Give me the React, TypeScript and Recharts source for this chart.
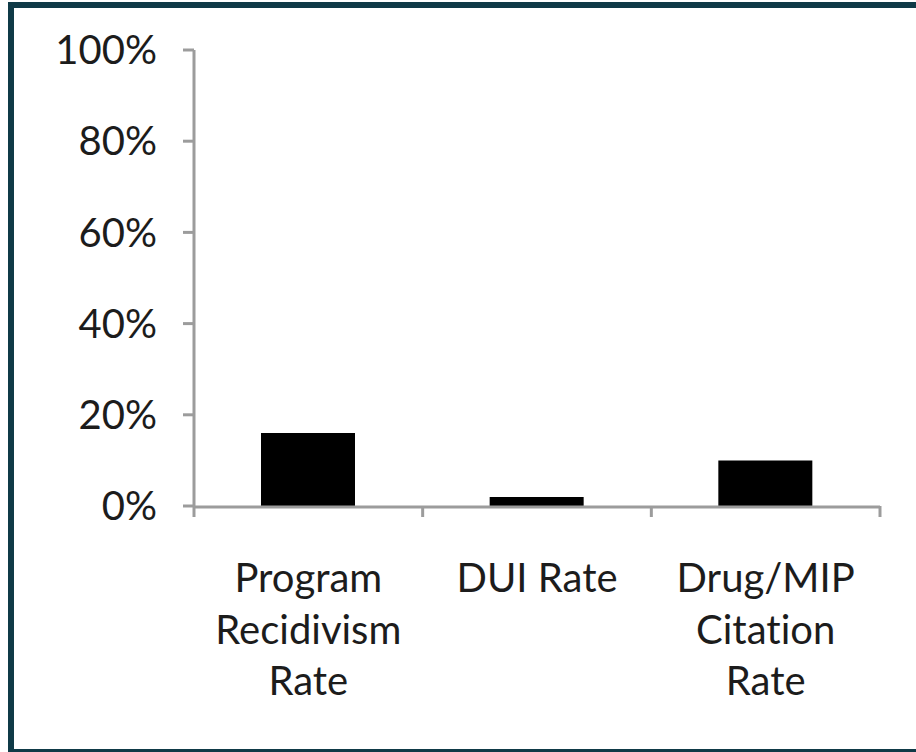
import { BarChart, Bar, XAxis, YAxis } from 'recharts';

const categories = ['Program Recidivism Rate', 'DUI Rate', 'Drug/MIP Citation Rate'];
const categoryLines = [['Program', 'Recidivism', 'Rate'], ['DUI Rate'], ['Drug/MIP', 'Citation', 'Rate']];
const rates = [0.16, 0.02, 0.1];
const yTicks = [0, 0.2, 0.4, 0.6, 0.8, 1];
const edgeTicks = [0, 1, 2, 3];

const data = categories.map((category, i) => ({ category, rate: rates[i], pos: i + 0.5 }));

const axisGray = '#9c9c9c';
const textColor = '#1c1c1c';
const font = 'Lato, sans-serif';

function CategoryTick(props: any) {
    const { x, y, payload } = props;
    const lines = categoryLines[categories.indexOf(payload.value)] || [payload.value];
    return (
        <text
            x={x}
            y={y}
            textAnchor="middle"
            fill={textColor}
            fontSize={40}
            fontFamily={font}
            style={{ fontVariantLigatures: 'none' }}
        >
            {lines.map((line, i) => (
                <tspan key={line} x={x} dy={i === 0 ? 85 : 51.5}>
                    {line}
                </tspan>
            ))}
        </text>
    );
}

const NoLabel = () => <g />;

export default function App() {
    return (
        <div style={{ position: 'absolute', left: 0, top: 0, width: 916, height: 752, overflow: 'hidden', background: '#fff' }}>
            <div
                style={{
                    position: 'absolute',
                    left: 8,
                    top: 2,
                    width: 908,
                    height: 750,
                    boxSizing: 'border-box',
                    borderLeft: '6px solid #0f3a47',
                    borderTop: '6px solid #0f3a47',
                    borderBottom: '3px solid #0f3a47',
                }}
            />
            <div style={{ position: 'absolute', left: 0, top: 0 }}>
                <BarChart
                    width={916}
                    height={752}
                    data={data}
                    margin={{ top: 50, right: 36, bottom: 45, left: 0 }}
                >
                    {/* category edges: tick marks only */}
                    <XAxis
                        dataKey="pos"
                        type="number"
                        domain={[0, 3]}
                        ticks={edgeTicks}
                        interval={0}
                        height={1}
                        tick={NoLabel}
                        axisLine={false}
                        tickLine={{ stroke: axisGray, strokeWidth: 3 }}
                        tickSize={11}
                    />
                    <XAxis
                        xAxisId="cat"
                        dataKey="category"
                        height={200}
                        axisLine={{ stroke: axisGray, strokeWidth: 3 }}
                        tickLine={false}
                        tickSize={0}
                        tickMargin={0}
                        interval={0}
                        tick={<CategoryTick />}
                    />
                    <YAxis
                        width={194}
                        domain={[0, 1]}
                        ticks={yTicks}
                        interval={0}
                        tickFormatter={(v: number) => `${Math.round(v * 100)}%`}
                        axisLine={{ stroke: axisGray, strokeWidth: 3 }}
                        tickLine={{ stroke: axisGray, strokeWidth: 3 }}
                        tickSize={11}
                        tickMargin={26}
                        tick={{ fill: textColor, fontSize: 40, fontFamily: font }}
                    />
                    <Bar xAxisId="cat" dataKey="rate" fill="#000" barSize={94} isAnimationActive={false} />
                </BarChart>
            </div>
        </div>
    );
}
